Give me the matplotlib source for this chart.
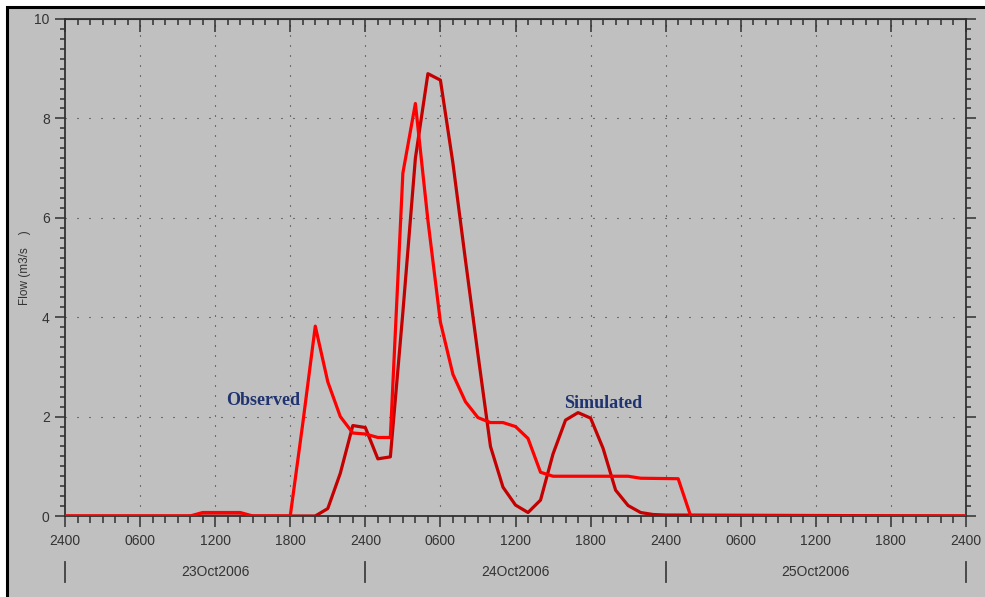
import matplotlib
matplotlib.use("Agg")
import matplotlib.pyplot as plt
from matplotlib.lines import Line2D
from matplotlib.patches import Rectangle
from matplotlib.ticker import MultipleLocator, FixedLocator

plt.rcParams['font.family'] = ['Liberation Sans', 'DejaVu Sans']

# Hours since 23Oct2006 0000 and flows (m3/s).
obs_hours = [0, 10, 11, 14, 15, 18, 19, 20, 21, 22, 23, 24, 25, 26, 27, 28, 29, 30,
             31, 32, 33, 34, 35, 36, 37, 38, 39, 45, 46, 49, 50, 72]
obs_flow = [0, 0, 0.07, 0.07, 0, 0, 1.86, 3.82, 2.7, 2.0, 1.67, 1.65, 1.58, 1.58,
            6.9, 8.3, 5.95, 3.9, 2.85, 2.3, 1.98, 1.88, 1.88, 1.8, 1.56, 0.88, 0.8,
            0.8, 0.76, 0.75, 0, 0]

sim_hours = [0, 20, 21, 22, 23, 24, 25, 26, 27, 28, 29, 30, 31, 32, 33, 34, 35, 36,
             37, 38, 39, 40, 41, 42, 43, 44, 45, 46, 47, 48, 72]
sim_flow = [0, 0, 0.15, 0.86, 1.82, 1.78, 1.15, 1.19, 4.1, 7.2, 8.9, 8.77, 7.1, 5.15,
            3.25, 1.4, 0.58, 0.22, 0.07, 0.32, 1.25, 1.93, 2.08, 1.97, 1.36, 0.52,
            0.21, 0.07, 0.03, 0.02, 0]

time_labels = ["2400", "0600", "1200", "1800"] * 3 + ["2400"]
day_labels = ["23Oct2006", "24Oct2006", "25Oct2006"]

GRAY = "#C0C0C0"
TICK = "#303030"

fig = plt.figure(figsize=(9.85, 5.97), dpi=100, facecolor="white")
# gray panel with black frame on top and left
fig.add_artist(Rectangle((7 / 985, -0.1), 1.2, 1 - 7 / 597 + 0.1,
                         transform=fig.transFigure, facecolor=GRAY,
                         edgecolor="black", lw=2.2, zorder=0))

ax = fig.add_axes([65 / 985, 81 / 597, 901 / 985, 497 / 597])
ax.set_facecolor(GRAY)

ax.plot(sim_hours, sim_flow, color="#C40000", lw=2.3, zorder=3)
ax.plot(obs_hours, obs_flow, color="#FF0000", lw=2.3, zorder=4)

ax.set_xlim(0, 72)
ax.set_ylim(0, 10)

# ticks
ax.xaxis.set_major_locator(FixedLocator(range(0, 73, 6)))
ax.xaxis.set_minor_locator(MultipleLocator(1))
ax.set_xticklabels(time_labels)
ax.yaxis.set_major_locator(MultipleLocator(2))
ax.yaxis.set_minor_locator(MultipleLocator(0.2))

ax.tick_params(axis="x", which="both", bottom=True, top=True, colors=TICK,
               labelsize=10, labelcolor="#333333")
ax.tick_params(axis="x", which="major", direction="out", length=8, width=1.1, pad=5)
ax.tick_params(axis="x", which="minor", direction="out", length=5, width=1.1)
ax.tick_params(axis="y", which="both", left=True, right=True, colors=TICK,
               labelsize=10, labelcolor="#333333", direction="out")
ax.tick_params(axis="y", which="major", length=7, width=1.1, pad=4)
ax.tick_params(axis="y", which="minor", length=3.5, width=1.1)

for s in ax.spines.values():
    s.set_color(TICK)
    s.set_linewidth(1.3)

# top ticks point inward: draw them as a secondary axis
top = ax.secondary_xaxis("top")
top.xaxis.set_major_locator(FixedLocator(range(0, 73, 6)))
top.xaxis.set_minor_locator(MultipleLocator(1))
top.tick_params(which="major", direction="in", length=9, width=1.1, colors=TICK,
                labeltop=False)
top.tick_params(which="minor", direction="in", length=4.5, width=1.1, colors=TICK)
top.spines["top"].set_color(TICK)
ax.tick_params(axis="x", which="both", top=False)

# dotted grid
for h in range(6, 72, 6):
    ax.axvline(h, color="#202020", lw=0.8, linestyle=(0, (0.9, 8.1)), zorder=1)
for v in range(2, 10, 2):
    ax.axhline(v, color="#202020", lw=0.8, linestyle=(0, (0.9, 9.9)), zorder=1)

# day labels with separators under the time axis
trans = ax.get_xaxis_transform()
for d in range(0, 73, 24):
    ax.add_line(Line2D([d, d], [-0.093, -0.133], transform=trans,
                       color="#404040", lw=1.3, clip_on=False))
for i, lab in enumerate(day_labels):
    ax.text(12 + 24 * i, -0.1127, lab, transform=trans, ha="center",
            va="center", fontsize=10, color="#333333")

fig.text(25 / 985, 1 - 268 / 597, "Flow (m3/s    )", rotation=90,
         ha="center", va="center", fontsize=8.5, color="#333333")

ax.text(15.8, 2.33, "Observed", ha="center", va="center", fontsize=13,
        fontweight="bold", family="Liberation Serif", color="#1F3370", zorder=5)
ax.text(43.0, 2.27, "Simulated", ha="center", va="center", fontsize=13,
        fontweight="bold", family="Liberation Serif", color="#1F3370", zorder=5)

fig.savefig("out.png", dpi=100, facecolor=fig.get_facecolor())
